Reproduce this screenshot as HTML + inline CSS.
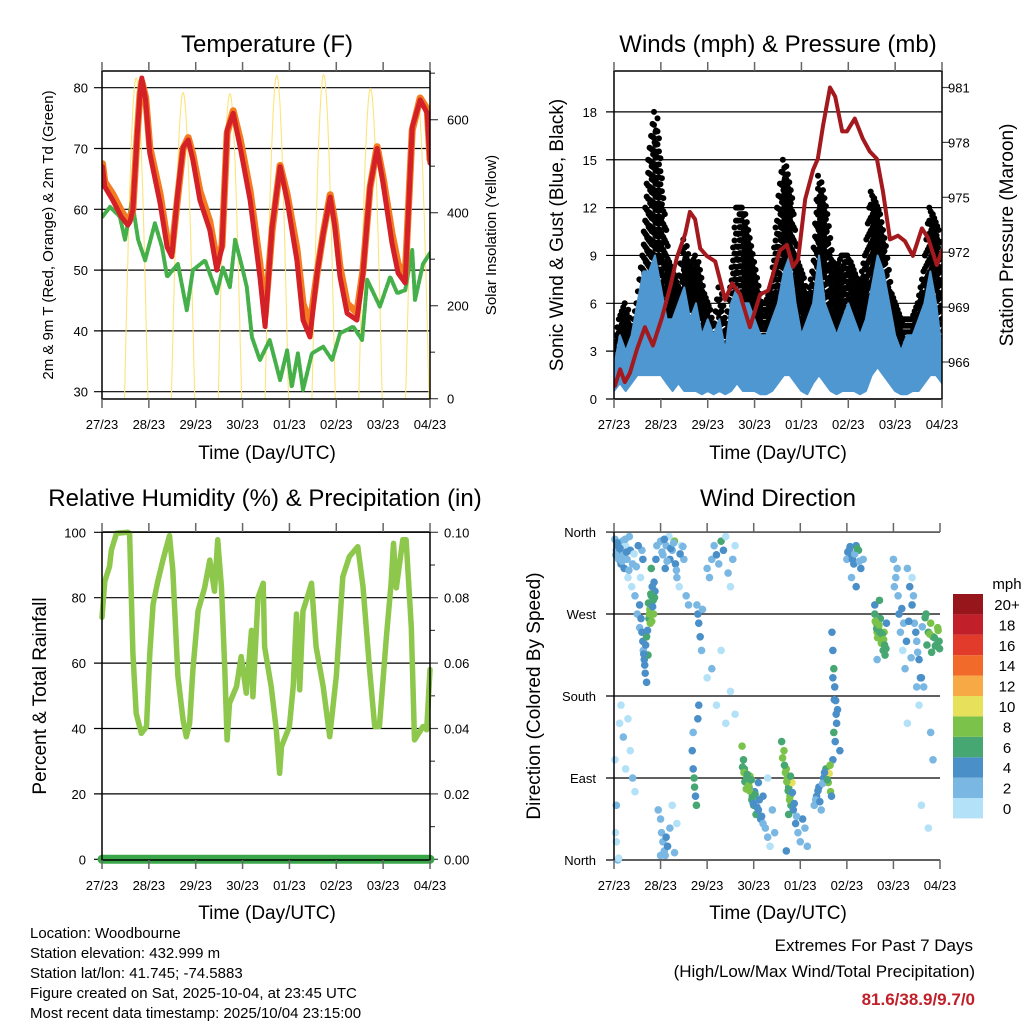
<!DOCTYPE html>
<html><head><meta charset="utf-8"><style>
html,body{margin:0;padding:0;background:#fff;}
svg{display:block;font-family:"Liberation Sans",sans-serif;}
</style></head><body>
<svg id="chart" width="1024" height="1024" viewBox="0 0 1024 1024" xmlns="http://www.w3.org/2000/svg">
<g font-size="24" text-anchor="middle" fill="#000">
<text x="267" y="52">Temperature (F)</text>
<text x="778" y="52">Winds (mph) &amp; Pressure (mb)</text>
<text x="265" y="506">Relative Humidity (%) &amp; Precipitation (in)</text>
<text x="778" y="506">Wind Direction</text>
</g>
<g font-size="19" text-anchor="middle">
<text x="267" y="459">Time (Day/UTC)</text>
<text x="778" y="459">Time (Day/UTC)</text>
<text x="267" y="919">Time (Day/UTC)</text>
<text x="778" y="919">Time (Day/UTC)</text>
<text transform="translate(563,235) rotate(-90)">Sonic Wind &amp; Gust (Blue, Black)</text>
<text transform="translate(1013,235) rotate(-90)">Station Pressure (Maroon)</text>
<text transform="translate(46,696) rotate(-90)">Percent &amp; Total Rainfall</text>
<text transform="translate(540,696) rotate(-90)">Direction (Colored By Speed)</text>
</g>
<g font-size="15" text-anchor="middle">
<text transform="translate(53,235) rotate(-90)">2m &amp; 9m T (Red, Orange) &amp; 2m Td (Green)</text>
<text transform="translate(496,235) rotate(-90)">Solar Insolation (Yellow)</text>
</g>
<g font-size="15">
<text x="30" y="938">Location: Woodbourne</text>
<text x="30" y="958">Station elevation: 432.999 m</text>
<text x="30" y="978">Station lat/lon: 41.745; -74.5883</text>
<text x="30" y="998">Figure created on Sat, 2025-10-04, at 23:45 UTC</text>
<text x="30" y="1018">Most recent data timestamp: 2025/10/04 23:15:00</text>
</g>
<g font-size="17" text-anchor="end">
<text x="973" y="951">Extremes For Past 7 Days</text>
<text x="975" y="977">(High/Low/Max Wind/Total Precipitation)</text>
<text x="975" y="1005" fill="#c1202a" font-weight="bold">81.6/38.9/9.7/0</text>
</g>
<g id="layer"></g>
</svg>
<script>
const dayLabels=['27/23','28/23','29/23','30/23','01/23','02/23','03/23','04/23'];
const tempTicks=[30,40,50,60,70,80];
const solarTicks=[0,200,400,600];
const windTicks=[0,3,6,9,12,15,18];
const presTicks=[966,969,972,975,978,981];
const rhTicks=[0,20,40,60,80,100];
const precipTicks=['0.00','0.02','0.04','0.06','0.08','0.10'];
const dirTicks=['North','East','South','West','North'];
const speedBins=['0','2','4','6','8','10','12','14','16','18','20+'];
const speedColors=['#b3e1f7','#7ab8e3','#4a8fc8','#47a772','#7bc24a','#e6e05a','#f7a945','#f26a2a','#e33b2b','#c1202a','#96161c'];

const tRedDays=[0.01,0.06,0.23,0.41,0.55,0.6,0.66,0.75,0.81,0.85,0.93,1.02,1.24,1.39,1.49,1.6,1.73,1.84,1.94,2.09,2.3,2.45,2.56,2.67,2.8,2.95,3.16,3.37,3.48,3.63,3.8,3.95,4.16,4.29,4.44,4.59,4.72,4.87,4.97,5.08,5.23,5.44,5.57,5.72,5.87,6.0,6.19,6.32,6.47,6.62,6.79,6.94,7.0];
const tRed=[67,63.7,61.5,58.8,57.4,58,60,72,79,81.6,78,69.2,61,53.8,52.2,61.5,70.2,71.4,68.1,61.5,56.6,50,53.8,73,75.8,70.2,61.5,48.9,40.7,57.1,67,61.5,51.6,41.8,39,49.5,56,62,57.1,48.9,42.9,41.8,49.5,63.7,70,64.3,54.4,49.5,47.9,73.5,78,75.8,67.6];
const tOrange=[67.5,64.5,62.5,59.8,58,58.5,60,72,79,81,78.5,70.2,62.5,55,53,61,70,71.8,69,63,58,51.5,54,72.5,76.2,71.5,63,51,42.5,56.5,67.2,62.5,53.5,44.5,41,49.5,56,62.4,58,50.5,44.5,43,50,63.5,70.3,65.2,56,51,49,73,78.3,76.5,68.2];
const tdDays=[0.01,0.17,0.38,0.49,0.64,0.77,0.92,1.13,1.28,1.39,1.62,1.81,1.94,2.2,2.45,2.58,2.73,2.84,2.99,3.09,3.2,3.37,3.58,3.8,3.95,4.05,4.18,4.29,4.48,4.72,4.91,5.08,5.36,5.55,5.66,5.93,6.15,6.3,6.47,6.62,6.68,6.85,7.0];
const tdVals=[58.8,60.4,58.8,55,61.5,55,51.6,57.7,53.8,48.9,51,43.4,50,51.6,46.2,50.4,47.2,55,50.5,47.2,39,35.2,38.5,31.9,36.8,30.8,36.3,30.3,36.3,37.4,35.2,39.6,40.7,38.5,48.4,44,48.9,46.2,46.7,53.3,45.1,51,52.8];
const solarPeaks=[690,658,656,695,697,667,647];

const windDaysStep=0.125;
const windHi=[2,4,3,4,6,8,8,9, 7,5,5,6,7,5,6,4, 5,4,5,3,6,7,6,6, 5,4,4,5,6,8,9,6, 4,5,6,9,6,5,4,5, 6,5,4,5,7,9,8,6, 4,3,4,4,5,6,8,6, 3];
const windLo=[0.5,1,0.5,1,1.5,1.5,1.5,1.5, 1.5,1,0.5,1,0.5,0.5,0.5,0.3, 0.5,0.3,0.5,0.3,0.5,1,0.5,0.5, 0.5,0.3,0.3,0.5,1,1.5,1.5,1, 0.5,0.3,1,1.5,1,0.5,0.3,0.5, 0.5,0.5,0.3,0.5,1.5,2,1.5,1, 0.5,0.3,0.3,0.5,0.5,1,1.5,1.5, 1];
const gustHi=[3,5,6,4,6,9,15,18, 13,9,8,7,10,8,9,7, 6,4,7,4,7,12,12,10, 8,6,6,7,12,15,13,9, 8,6,8,14,12,9,8,9, 9,8,7,9,13,12,10,7, 6,5,5,5,6,8,12,11, 8];
const presDays=[0.02,0.13,0.23,0.34,0.49,0.66,0.83,1.02,1.2,1.34,1.52,1.62,1.73,1.84,1.98,2.16,2.37,2.52,2.69,2.9,3.12,3.29,3.54,3.69,3.82,3.93,4.08,4.25,4.35,4.46,4.61,4.72,4.87,4.97,5.14,5.31,5.46,5.61,5.74,5.89,6.06,6.21,6.38,6.57,6.7,6.89,7.0];
const presVals=[964.7,965.6,964.9,965.4,966.7,967.9,966.9,968.4,970.1,971.7,973.0,974.2,973.8,972.2,971.8,971.5,969.4,970.3,969.7,967.9,969.7,969.9,972.1,972.4,971.2,971.6,974.9,976.5,977.1,978.9,981.0,980.5,978.6,978.6,979.3,978.2,977.5,977.1,975.3,972.7,972.9,972.6,971.8,973.3,972.8,971.3,972.1];

const rhDays=[0,0.06,0.16,0.2,0.31,0.55,0.59,0.66,0.73,0.84,0.95,1.02,1.09,1.19,1.3,1.44,1.51,1.62,1.73,1.8,1.87,1.94,2.05,2.19,2.3,2.4,2.47,2.55,2.62,2.67,2.72,2.87,2.97,3.08,3.19,3.22,3.33,3.44,3.47,3.61,3.72,3.79,3.83,4.0,4.08,4.15,4.22,4.29,4.4,4.47,4.57,4.72,4.86,5.0,5.14,5.28,5.46,5.57,5.71,5.82,5.92,6.07,6.17,6.22,6.28,6.42,6.49,6.6,6.67,6.85,6.93,7.0];
const rhVals=[74,85,89.5,94.6,99.7,100,99.7,63,44.6,38.5,40.6,63,78,85,91.5,99,88.5,56,42.6,37.5,41.6,58,76,83,91.5,82,97.7,83,58,36.5,47.7,52.8,62,50.8,70,49.7,80,84.4,65,52.8,39.6,26.3,34.5,40.6,52.8,75,51.8,76,81,84.4,65,52.8,37.5,56,86.4,92.6,95.6,83.4,58,40.6,40.6,68,84.4,96.6,83,97.7,97.7,71,36.5,40.6,39.6,58];
const precipDays=[0,7];
const precipVals=[0,0];

const dirDay=[0.02,0.05,0.08,0.1,0.12,0.15,0.18,0.2,0.22,0.25,0.28,0.3,0.33,0.35,0.38,0.4,0.45,0.5,0.55,0.57,0.6,0.62,
0.55,0.58,0.6,0.62,0.63,0.65,0.67,0.7,0.75,0.77,0.78,0.8,0.82,0.84,0.85,0.86,0.88,0.7,0.73,0.8,0.9,0.92,
0.02,0.05,0.03,0.08,0.12,0.15,0.2,0.25,0.3,0.35,0.4,0.45,0.05,0.1,
0.95,1.0,1.02,1.05,1.08,1.1,1.12,1.15,1.2,1.25,1.3,1.35,1.0,
1.0,1.05,1.1,1.12,1.18,1.2,1.25,1.3,1.32,1.35,1.4,1.45,1.5,1.55,1.6,
1.68,1.7,1.72,1.73,1.75,1.77,1.7,1.8,1.82,
1.78,1.8,1.82,1.85,1.88,1.9,
2.0,2.05,2.1,2.15,2.2,2.25,2.3,2.35,2.4,2.45,2.5,2.55,2.6,
2.0,2.2,2.4,2.5,2.6,2.3,2.1,
2.75,2.78,2.8,2.82,2.85,2.88,2.9,2.92,2.95,2.97,3.0,3.02,3.05,3.1,3.15,3.2,3.25,3.3,3.35,3.4,3.45,3.1,3.2,3.3,
3.6,3.65,3.7,3.72,3.75,3.78,3.8,3.82,3.85,3.9,3.95,4.0,4.05,4.1,4.15,3.7,3.75,
4.3,4.35,4.4,4.45,4.5,4.55,4.6,4.62,4.65,4.7,4.75,4.78,4.8,4.72,4.85,
4.68,4.7,4.72,4.74,4.76,4.7,
5.0,5.05,5.1,5.15,5.2,5.25,5.3,5.1,5.2,5.35,
5.6,5.63,5.65,5.68,5.7,5.72,5.75,5.78,5.8,5.82,5.6,5.65,5.85,5.7,
6.0,6.05,6.1,6.12,6.15,6.2,6.25,6.3,6.35,6.4,6.45,6.5,6.55,6.6,6.65,6.7,6.75,6.8,6.85,6.9,6.95,6.98,6.5,6.55,6.4,6.3,6.8,6.85,6.6,6.75,
0.04,0.07,0.13,0.17,0.24,0.27,0.32,0.43,0.48,0.52,
0.74,0.76,0.79,0.81,0.83,0.87,0.72,0.68,0.66,0.64,
1.03,1.08,1.14,1.22,1.28,1.34,1.42,1.48,
2.76,2.79,2.81,2.84,2.86,2.89,2.91,2.94,2.96,2.99,3.03,3.07,3.12,3.17,
3.62,3.66,3.68,3.71,3.74,3.77,3.79,3.83,3.87,3.92,
4.33,4.38,4.42,4.48,4.52,4.58,4.64,4.67,4.73,4.77,
5.02,5.07,5.12,5.17,5.22,5.27,
5.61,5.64,5.66,5.69,5.71,5.74,5.76,5.79,5.81,5.84,
6.02,6.08,6.18,6.22,6.28,6.33,6.38,6.43,6.48,6.52,6.58,6.62,6.68,6.72,6.78,6.82,6.88,6.92,6.96,6.99];
const dirDeg=[352,340,345,330,338,325,350,335,320,345,330,310,355,340,300,325,290,270,255,310,340,330,
280,265,250,240,230,220,205,195,265,275,260,290,300,285,270,305,295,245,225,320,330,345,
110,60,30,0,150,170,135,100,155,120,90,75,20,2,
55,45,30,20,10,5,25,15,35,60,8,40,5,
350,335,320,345,355,330,340,350,325,310,300,345,330,290,280,
120,100,90,80,70,60,140,155,170,
280,270,260,245,230,275,
320,310,330,345,335,325,350,340,355,315,300,330,345,
200,170,150,185,160,230,210,
125,110,100,95,90,85,80,92,88,70,60,75,50,55,45,40,35,25,15,55,30,85,70,90,
130,120,100,90,80,70,60,85,55,40,30,20,45,35,15,10,50,
60,70,80,55,90,100,85,95,75,110,130,150,165,140,120,
250,230,210,190,175,200,
330,340,335,325,345,340,320,310,300,330,
270,260,250,255,245,265,240,230,250,225,280,220,260,285,
330,310,290,270,250,230,210,320,300,280,260,240,220,200,190,270,250,260,245,235,255,240,190,170,310,150,140,110,60,35,
335,348,342,328,352,338,318,336,322,345,
282,270,292,262,278,288,252,236,214,226,
338,352,328,342,348,318,336,344,
102,96,86,78,94,82,76,88,66,62,72,58,66,48,
112,104,96,86,76,66,92,74,62,48,
66,76,64,84,96,88,104,70,176,160,
338,344,330,336,342,328,
262,254,244,258,250,238,248,242,236,232,
300,320,276,260,240,262,222,290,250,228,200,256,266,236,248,228,244,236,252,232];
const dirSpd=[3,3,5,3,5,5,3,3,5,1,3,1,3,5,1,3,3,3,3,1,3,5,
5,5,5,5,3,5,5,5,7,9,9,7,5,7,9,5,5,7,7,7,5,3,
1,3,1,3,1,1,3,1,1,1,3,1,1,1,
3,3,3,3,3,3,5,5,3,1,3,1,3,
3,3,5,3,1,5,3,9,5,3,1,1,3,3,3,
5,5,7,7,5,7,3,5,5,
3,5,5,5,3,3,
3,3,3,3,5,3,7,5,1,3,1,3,1,
1,1,1,1,1,1,3,
9,7,7,9,7,9,7,9,9,7,7,5,7,5,5,3,3,3,1,3,3,5,5,1,
7,9,9,9,7,9,7,11,5,5,3,3,5,3,3,5,7,
3,5,5,3,5,7,9,11,9,5,5,5,5,7,5,
5,5,7,5,5,5,
3,5,5,5,5,7,5,3,5,3,
7,9,9,9,9,7,9,7,9,7,5,3,5,7,
3,3,3,5,3,1,3,3,5,5,3,3,5,5,3,7,7,9,7,7,9,7,3,1,1,1,3,3,1,1,
3,5,5,3,3,5,3,1,3,5,
7,9,7,9,5,7,5,5,5,5,
3,5,3,5,3,3,5,3,
7,9,7,9,7,9,9,7,7,5,7,5,5,5,
9,7,9,9,7,9,7,5,5,3,
3,5,5,3,5,7,9,5,5,5,
5,5,5,3,7,3,
9,7,9,9,7,9,7,9,7,7,
3,3,5,3,5,5,3,3,5,3,5,3,7,7,9,7,7,7,9,7];

const NS='http://www.w3.org/2000/svg';
const layer=document.getElementById('layer');
function mk(tag,attrs,parent){const e=document.createElementNS(NS,tag);for(const k in attrs)e.setAttribute(k,attrs[k]);(parent||layer).appendChild(e);return e;}
function txt(x,y,s,size,anchor){const e=mk('text',{x:x,y:y,'font-size':size,'text-anchor':anchor});e.textContent=s;return e;}

const P1={x0:102,x1:430,y0:71,y1:399};
const P2={x0:614,x1:942,y0:71,y1:399};
const P3={x0:102,x1:430,y0:532,y1:860};
const P4={x0:614,x1:940,y0:532,y1:860};
function xs(P,d){return P.x0+d*(P.x1-P.x0)/7;}
const tempY=v=>87.7+(80-v)*6.08;
const solarY=v=>398.7-v*0.465;
const windY=v=>399-v*15.95;
const presY=v=>362-(v-966)*18.3;
const rhY=v=>859.3-v*3.27;
const precipY=v=>859.3-v*3270;
const dirY=d=>860-d*0.911;

function xAxis(P,name){
  dayLabels.forEach((lab,i)=>{
    const x=xs(P,i);
    let t=mk('line',{x1:x,x2:x,y1:P.y0-9,y2:P.y0,stroke:'#666','stroke-width':1.5});
    
    
    t=mk('line',{x1:x,x2:x,y1:P.y1,y2:P.y1+9,stroke:'#666','stroke-width':1.5});
    
    
    const l=txt(x,P.y1+30,lab,13,'middle');
    
    
  });
}
function grid(P,y,name){
  const g=mk('line',{x1:P.x0-8,x2:P.x1,y1:y,y2:y,stroke:'#000','stroke-width':1.2});
  
  
}
function frame(P,name,full){
  const f=mk('rect',{x:P.x0,y:P.y0,width:P.x1-P.x0,height:P.y1-P.y0,fill:'none',stroke:full?'#000':'none','stroke-width':1.5});
  
  
}
function rTick(P,y,len,name){
  const t=mk('line',{x1:P.x1,x2:P.x1+len,y1:y,y2:y,stroke:'#444','stroke-width':1.2});
  
  
}
function lineFrom(P,days,vals,yf,color,w,name){
  const d=days.map((t,i)=>(i?'L':'M')+xs(P,t).toFixed(1)+','+yf(vals[i]).toFixed(1)).join('');
  const p=mk('path',{d:d,fill:'none',stroke:color,'stroke-width':w,'stroke-linejoin':'round','stroke-linecap':'round'});
  
  
  return p;
}

/* ---------- Panel 1: temperature ---------- */
tempTicks.forEach(v=>{grid(P1,tempY(v),'temp');const l=txt(P1.x0-14,tempY(v)+5,String(v),13,'end');
  
  });
solarTicks.forEach(v=>{rTick(P1,solarY(v),8,'solar');const l=txt(P1.x1+17,solarY(v)+5,String(v),13,'start');
  
  });
for(let v=100;v<=700;v+=200){rTick(P1,solarY(v),5,'solar-minor');}
const clip1=mk('clipPath',{id:'c1'});mk('rect',{x:P1.x0,y:P1.y0,width:P1.x1-P1.x0,height:P1.y1-P1.y0},clip1);
const g1=mk('g',{'clip-path':'url(#c1)'});
solarPeaks.forEach((pk,dIdx)=>{
  const s=dIdx+0.48,e=Math.min(dIdx+0.98,7);let d='';
  for(let t=s;t<=e+1e-9;t+=0.01){const v=pk*Math.sin(Math.PI*(t-s)/(0.5));d+=(d?'L':'M')+xs(P1,t).toFixed(1)+','+solarY(Math.max(v,0)).toFixed(1);}
  const p=mk('path',{d:d,fill:'none',stroke:'#fbe47a','stroke-width':1.1},g1);
  
  
});
const tdp=lineFrom(P1,tdDays,tdVals,tempY,'#45b04a',4,'dewpoint-line');g1.appendChild(tdp);tdp.setAttribute('stroke-dasharray','4 2');
const tor=lineFrom(P1,tRedDays,tOrange,tempY,'#f47c20',7,'temp-9m-line');g1.appendChild(tor);
const trd=lineFrom(P1,tRedDays,tRed,tempY,'#d42027',5,'temp-2m-line');g1.appendChild(trd);
frame(P1,'temp',true);xAxis(P1,'temp');

/* ---------- Panel 2: winds ---------- */
windTicks.forEach(v=>{grid(P2,windY(v),'wind');const l=txt(P2.x0-17,windY(v)+5,String(v),13,'end');
  
  });
presTicks.forEach(v=>{rTick(P2,presY(v),8,'pressure');const l=txt(P2.x1+6,presY(v)+5,String(v),13,'start');
  
  });
const clip2=mk('clipPath',{id:'c2'});mk('rect',{x:P2.x0,y:P2.y0,width:P2.x1-P2.x0,height:P2.y1-P2.y0},clip2);
const g2=mk('g',{'clip-path':'url(#c2)'});
function band(lo,hi,color,name){
  let d='';
  hi.forEach((v,i)=>{d+=(i?'L':'M')+xs(P2,i*windDaysStep).toFixed(1)+','+windY(v).toFixed(1);});
  for(let i=lo.length-1;i>=0;i--){d+='L'+xs(P2,i*windDaysStep).toFixed(1)+','+windY(lo[i]).toFixed(1);}
  const p=mk('path',{d:d+'Z',fill:color,stroke:color,'stroke-width':2,'stroke-linejoin':'round'},g2);
  
  
}
/* gust dots: fill the region between wind top and gust top with a dot texture */
for(let i=0;i<gustHi.length-1;i++){
  for(let k=0;k<4;k++){
    const f=k/4, d=(i+f)*windDaysStep;
    const hi=gustHi[i]+(gustHi[i+1]-gustHi[i])*f;
    const lo=windHi[i]+(windHi[i+1]-windHi[i])*f;
    const yT=windY(hi), yB=windY(lo)+4;
    let row=0;
    for(let y=yT;y<=yB;y+=6.5){
      const c=mk('circle',{cx:xs(P2,d)+((row%2)?2.5:-1),cy:y,r:3,fill:'#000'},g2);
      
      
      row++;
    }
  }
}
band(windLo,windHi,'#4f97d0','wind-speed-band');
const pl=lineFrom(P2,presDays,presVals,presY,'#a3191d',4,'pressure-line');g2.appendChild(pl);
frame(P2,'wind',true);xAxis(P2,'wind');

/* ---------- Panel 3: humidity ---------- */
rhTicks.forEach((v,i)=>{grid(P3,rhY(v),'rh');let l=txt(P3.x0-16,rhY(v)+5,String(v),13,'end');
  
  
  l=txt(P3.x1+14,rhY(v)+5,precipTicks[i],13,'start');
  
  
  rTick(P3,rhY(v),8,'precip');
  if(v<100)rTick(P3,rhY(v+10),5,'precip-minor');});
lineFrom(P3,rhDays,rhVals,rhY,'#8dc74b',5.5,'relative-humidity-line');
lineFrom(P3,precipDays,precipVals,precipY,'#3aa64a',9,'precipitation-line');
frame(P3,'rh',true);xAxis(P3,'rh');

/* ---------- Panel 4: wind direction ---------- */
dirTicks.forEach((s,i)=>{const y=dirY(i*90);
  const g=mk('line',{x1:P4.x0-8,x2:P4.x1,y1:y,y2:y,stroke:'#000','stroke-width':1.2});
  
  
  const l=txt(P4.x0-18,y+5,s,13,'end');
  
  });
dirDay.forEach((d,i)=>{
  const c=mk('circle',{cx:xs(P4,d),cy:dirY(dirDeg[i]),r:3.8,fill:speedColors[Math.min(10,Math.floor(dirSpd[i]/2))]});
  
  
});
const ax4=mk('line',{x1:P4.x0,x2:P4.x0,y1:P4.y0,y2:P4.y1,stroke:'#000','stroke-width':1.5});


xAxis(P4,'dir');

/* legend */
const lt=txt(1007,589,'mph',15,'middle');


speedBins.forEach((lab,i)=>{
  const y=798-i*20.4;
  const r=mk('rect',{x:953,y:y,width:30,height:20.4,fill:speedColors[i]});
  
  
  const l=txt(1007,y+16,lab,15,'middle');
  
  
});
</script>
</body></html>
